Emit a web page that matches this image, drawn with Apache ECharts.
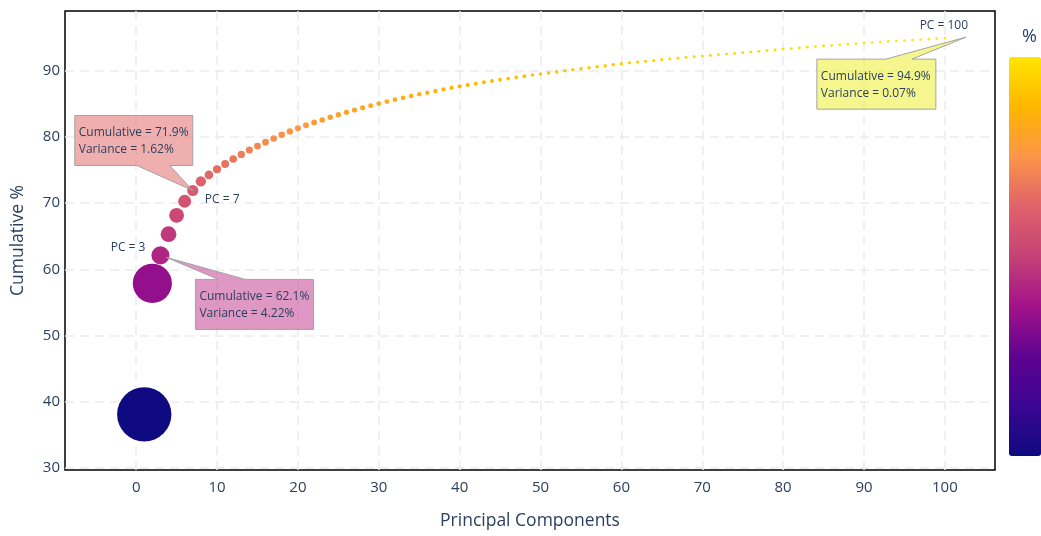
<!DOCTYPE html>
<html>
<head>
<meta charset="utf-8">
<script src="https://cdn.jsdelivr.net/npm/echarts@6/dist/echarts.min.js"></script>
<style>
  html, body { margin: 0; padding: 0; background: #fff; }
  #chart { width: 1041px; height: 536px; }
</style>
</head>
<body>
<div id="chart"></div>
<script>
// Cumulative explained variance (%) for principal components 1..100
const cumulative = [
  38.10, 57.88, 62.10, 65.30, 68.15, 70.28, 71.90, 73.28, 74.25, 75.10,
  75.90, 76.65, 77.35, 78.00, 78.60, 79.20, 79.75, 80.30, 80.82, 81.29,
  81.74, 82.17, 82.56, 82.95, 83.33, 83.70, 84.05, 84.39, 84.71, 85.02,
  85.32, 85.61, 85.89, 86.16, 86.42, 86.67, 86.92, 87.16, 87.39, 87.62,
  87.83, 88.03, 88.23, 88.43, 88.62, 88.80, 88.98, 89.16, 89.33, 89.49,
  89.65, 89.81, 89.97, 90.12, 90.27, 90.42, 90.58, 90.73, 90.89, 91.04,
  91.17, 91.30, 91.42, 91.54, 91.66, 91.77, 91.88, 91.98, 92.09, 92.19,
  92.30, 92.40, 92.50, 92.60, 92.70, 92.80, 92.91, 93.02, 93.13, 93.23,
  93.33, 93.43, 93.53, 93.62, 93.72, 93.81, 93.90, 93.99, 94.08, 94.17,
  94.25, 94.33, 94.41, 94.48, 94.55, 94.62, 94.69, 94.76, 94.83, 94.90
];
// Components that carry a callout
const highlighted = [3, 7, 100];
// Tick values
const xTicks = [0, 10, 20, 30, 40, 50, 60, 70, 80, 90, 100];
const yTicks = [30, 40, 50, 60, 70, 80, 90];
// Colour ramp for the cumulative % scale (low -> high)
const rampColors = ['#0f0a80', '#3b0592', '#5e0390', '#a3128a', '#c54277',
                    '#df626b', '#fc9548', '#ffb600', '#ffe600'];

// Per-component variance = step of the cumulative curve
const variance = cumulative.map((c, i) => i === 0 ? c : c - cumulative[i - 1]);
const points = cumulative.map((c, i) => [i + 1, c, variance[i]]);

// Callout layout, in pixels relative to the annotated marker
const callouts = {
  3:   { box: [35, 24, 118, 50],   edge: 'top',    base: [58, 85],   tip: [6, 2],
         fill: 'rgba(190,50,135,0.5)',  tag: [-15, -8, 'right'] },
  7:   { box: [-118, -75, 118, 50], edge: 'bottom', base: [-56, -23], tip: [0, 0],
         fill: 'rgba(226,96,96,0.5)',   tag: [12, 9, 'left'] },
  100: { box: [-128, 21, 119, 50],  edge: 'top',    base: [-59, -33], tip: [21, -1],
         fill: 'rgba(236,240,30,0.5)',  tag: [-1, -13, 'center'] }
};

const textColor = '#2a3f5f';
const fontFamily = "'Segoe UI', 'Open Sans', 'Noto Sans', sans-serif";

function renderCallout(params, api) {
  const pc = api.value(0);
  const cfg = callouts[pc];
  const p = api.coord([pc, api.value(1)]);
  const L = p[0] + cfg.box[0], T = p[1] + cfg.box[1];
  const R = L + cfg.box[2], B = T + cfg.box[3];
  const b1 = p[0] + cfg.base[0], b2 = p[0] + cfg.base[1];
  const tip = [p[0] + cfg.tip[0], p[1] + cfg.tip[1]];
  let pts;
  if (cfg.edge === 'top') {
    pts = [[L, T], [b1, T], tip, [b2, T], [R, T], [R, B], [L, B]];
  } else {
    pts = [[L, T], [R, T], [R, B], [b2, B], tip, [b1, B], [L, B]];
  }
  const cum = api.value(1).toFixed(1);
  const vr = api.value(2).toFixed(2);
  const textEl = (x, y, t, align) => ({
    type: 'text',
    style: { x: x, y: y, text: t, fill: textColor, fontSize: 12, fontFamily: fontFamily,
             align: align || 'left', verticalAlign: 'middle' }
  });
  return {
    type: 'group',
    children: [
      { type: 'polygon', shape: { points: pts },
        style: { fill: cfg.fill, stroke: '#a3a3a3', lineWidth: 1 } },
      textEl(L + 4, T + 17, 'Cumulative = ' + cum + '%'),
      textEl(L + 4, T + 34, 'Variance = ' + vr + '%'),
      textEl(p[0] + cfg.tag[0], p[1] + cfg.tag[1], 'PC = ' + pc, cfg.tag[2])
    ]
  };
}

const chart = echarts.init(document.getElementById('chart'), null, { renderer: 'canvas' });

const option = {
  animation: false,
  backgroundColor: '#ffffff',
  textStyle: { fontFamily: fontFamily },
  grid: {
    left: 65, right: 46, top: 11, bottom: 66,
    show: true, borderColor: '#000', borderWidth: 1.5, backgroundColor: 'transparent'
  },
  xAxis: {
    type: 'value', min: -8.8, max: 106.2,
    name: 'Principal Components', nameLocation: 'middle', nameGap: 42,
    nameTextStyle: { fontSize: 17.5, color: textColor, fontFamily: fontFamily },
    axisLine: { show: false },
    axisTick: { show: false, customValues: xTicks },
    axisLabel: { customValues: xTicks, fontSize: 15, color: textColor, margin: 10, fontFamily: fontFamily },
    splitLine: { show: true, lineStyle: { type: [9, 6], color: '#ebebeb', width: 1.5 } }
  },
  yAxis: {
    type: 'value', min: 29.7, max: 99,
    name: 'Cumulative %', nameLocation: 'middle', nameGap: 38,
    nameTextStyle: { fontSize: 17.5, color: textColor, fontFamily: fontFamily },
    axisLine: { show: false },
    axisTick: { show: false, customValues: yTicks },
    axisLabel: { customValues: yTicks, fontSize: 15, color: textColor, margin: 5, fontFamily: fontFamily },
    splitLine: { show: true, lineStyle: { type: [9, 6], color: '#ebebeb', width: 1.5 } }
  },
  visualMap: {
    type: 'continuous',
    seriesIndex: 0,
    dimension: 1,
    min: Math.min(...cumulative),
    max: Math.max(...cumulative),
    calculable: false,
    showLabel: false,
    text: null,
    padding: 0,
    left: 1009, top: 57,
    itemWidth: 32, itemHeight: 399,
    inRange: { color: rampColors }
  },
  graphic: [{
    type: 'text', left: 1022, top: 28,
    style: { text: '%', fontSize: 18, fill: textColor, fontFamily: fontFamily }
  }],
  series: [
    {
      type: 'scatter',
      data: points,
      symbolSize: v => Math.max(2.6, 8.8 * Math.sqrt(v[2])),
      itemStyle: { opacity: 1 },
      z: 2
    },
    {
      type: 'custom',
      data: highlighted.map(pc => points[pc - 1]),
      renderItem: renderCallout,
      z: 5
    }
  ]
};

chart.setOption(option);
</script>
</body>
</html>
